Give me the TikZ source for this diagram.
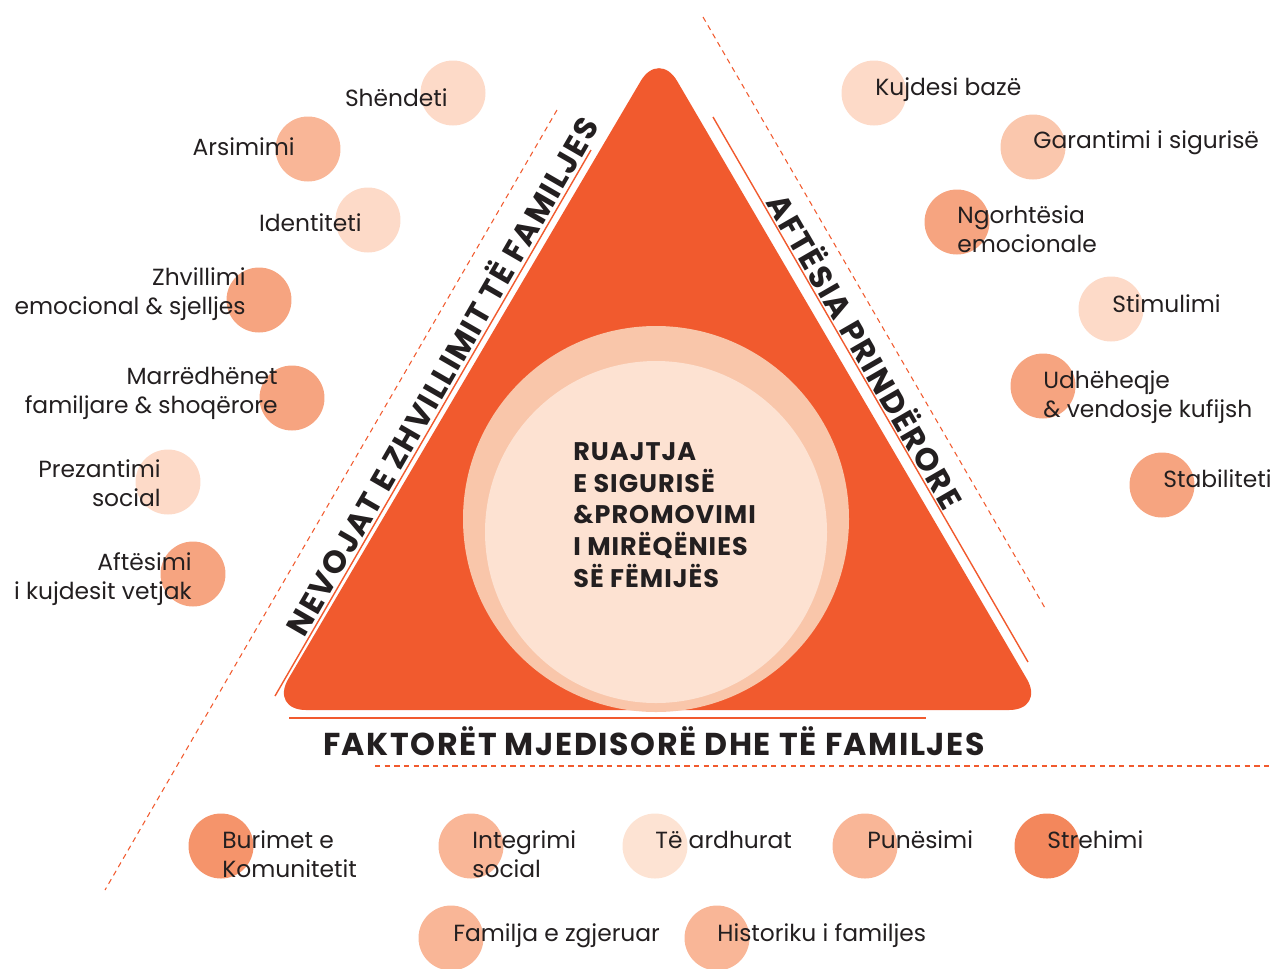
\documentclass[tikz,border=0pt]{standalone}
\usepackage{fontspec}
\setmainfont{Poppins}
\usepackage{tikz}
\definecolor{tri}{HTML}{F15A2E}
\definecolor{ring}{HTML}{F9C6AA}
\definecolor{core}{HTML}{FDE2D2}
\definecolor{ink}{HTML}{231F20}
\definecolor{pale}{HTML}{FDDAC8}
\definecolor{paler}{HTML}{FDE3D3}
\definecolor{soft}{HTML}{FAC7AD}
\definecolor{mid}{HTML}{F9B697}
\definecolor{deep}{HTML}{F6A480}
\definecolor{warm}{HTML}{F5946B}
\definecolor{hot}{HTML}{F3875C}
\tikzset{
  bub/.style={circle, fill=#1, minimum size=1.3cm, inner sep=0pt},
  lbl/.style={text=ink, font=\fontsize{13.3}{16.3}\selectfont, inner sep=0pt},
  head/.style={text=ink, font=\fontsize{18}{20}\selectfont\bfseries\addfontfeatures{LetterSpace=5}, inner sep=0pt},
  ctext/.style={text=ink, font=\fontsize{14.5}{18}\selectfont\bfseries\addfontfeatures{LetterSpace=4}, inner sep=0pt},
  rim/.style={draw=tri, line width=0.8pt},
  dashrim/.style={draw=tri, line width=0.6pt, dash pattern=on 3pt off 2.5pt}
}

\begin{document}
\begin{tikzpicture}[x=0.02cm, y=-0.02cm]
  \useasboundingbox (0,0) rectangle (1277,968);

  % triangle and centre
  \fill[tri, rounded corners=0.72cm] (270,710) -- (659,50) -- (1045,710) -- cycle;
  \fill[ring] (656,519) circle[radius=193];
  \fill[core] (656,532) circle[radius=171];
  \node[ctext, anchor=base west, align=left] (goal) at (573,587)
    {RUAJTJA\\E SIGURISË\\\&PROMOVIMI\\I MIRËQËNIES\\SË FËMIJËS};

  % side rules
  \draw[rim] (591,150) -- (275,696);
  \draw[rim] (713,117) -- (1028,662);
  \draw[rim] (289,718) -- (926,718);
  \draw[dashrim] (557,110) -- (105,890);
  \draw[dashrim] (703,17) -- (1045,608);
  \draw[dashrim] (375,766) -- (1270,766);

  \node[head, rotate=60] (needs) at (440,375) {NEVOJAT E ZHVILLIMIT TË FAMILJES};
  \node[head, rotate=-60] (skills) at (867,350) {AFTËSIA PRINDËRORE};
  \node[head, anchor=base] (env) at (654,755) {FAKTORËT MJEDISORË DHE TË FAMILJES};

  % left: needs
  \node[bub=pale] (shendeti) at (453,93) {};
  \node[lbl, anchor=base east] (shendetiT) at (448,106) {Shëndeti};
  \node[bub=mid] (arsimimi) at (308,149) {};
  \node[lbl, anchor=base east] (arsimimiT) at (295,155) {Arsimimi};
  \node[bub=pale] (identiteti) at (368,220) {};
  \node[lbl, anchor=base east] (identitetiT) at (362,231) {Identiteti};
  \node[bub=deep] (zhvillimi) at (259,300) {};
  \node[lbl, anchor=base east, align=right] (zhvillimiT) at (246,314) {Zhvillimi\\emocional \& sjelljes};
  \node[bub=deep] (marredhenet) at (292,398) {};
  \node[lbl, anchor=base east, align=right] (marredhenetT) at (278,413) {Marrëdhënet\\familjare \& shoqërore};
  \node[bub=pale] (prezantimi) at (168,482) {};
  \node[lbl, anchor=base east, align=right] (prezantimiT) at (161,506) {Prezantimi\\social};
  \node[bub=deep] (aftesimi) at (193,574) {};
  \node[lbl, anchor=base east, align=right] (aftesimiT) at (192,599) {Aftësimi\\i kujdesit vetjak};

  % right: parenting
  \node[bub=pale] (kujdesi) at (874,93) {};
  \node[lbl, anchor=base west] (kujdesiT) at (875,95) {Kujdesi bazë};
  \node[bub=soft] (garantimi) at (1033,147) {};
  \node[lbl, anchor=base west] (garantimiT) at (1033,148) {Garantimi i sigurisë};
  \node[bub=deep] (ngrohtesia) at (957,222) {};
  \node[lbl, anchor=base west, align=left] (ngrohtesiaT) at (957,252) {Ngorhtësia\\emocionale};
  \node[bub=pale] (stimulimi) at (1111,309) {};
  \node[lbl, anchor=base west] (stimulimiT) at (1112,312) {Stimulimi};
  \node[bub=deep] (udheheqje) at (1043,386) {};
  \node[lbl, anchor=base west, align=left] (udheheqjeT) at (1043,417) {Udhëheqje\\\& vendosje kufijsh};
  \node[bub=deep] (stabiliteti) at (1162,485) {};
  \node[lbl, anchor=base west] (stabilitetiT) at (1163,487) {Stabiliteti};

  % bottom: environment
  \node[bub=warm] (burimet) at (221,846) {};
  \node[lbl, anchor=base west, align=left] (burimetT) at (222,877) {Burimet e\\Komunitetit};
  \node[bub=mid] (integrimi) at (471,846) {};
  \node[lbl, anchor=base west, align=left] (integrimiT) at (472,877) {Integrimi\\social};
  \node[bub=paler] (ardhurat) at (655,846) {};
  \node[lbl, anchor=base west] (ardhuratT) at (655,848) {Të ardhurat};
  \node[bub=mid] (punesimi) at (865,846) {};
  \node[lbl, anchor=base west] (punesimiT) at (867,848) {Punësimi};
  \node[bub=hot] (strehimi) at (1047,846) {};
  \node[lbl, anchor=base west] (strehimiT) at (1047,848) {Strehimi};
  \node[bub=mid] (familja) at (451,938) {};
  \node[lbl, anchor=base west] (familjaT) at (453,941) {Familja e zgjeruar};
  \node[bub=mid] (historiku) at (717,938) {};
  \node[lbl, anchor=base west] (historikuT) at (717,941) {Historiku i familjes};
\end{tikzpicture}
\end{document}
